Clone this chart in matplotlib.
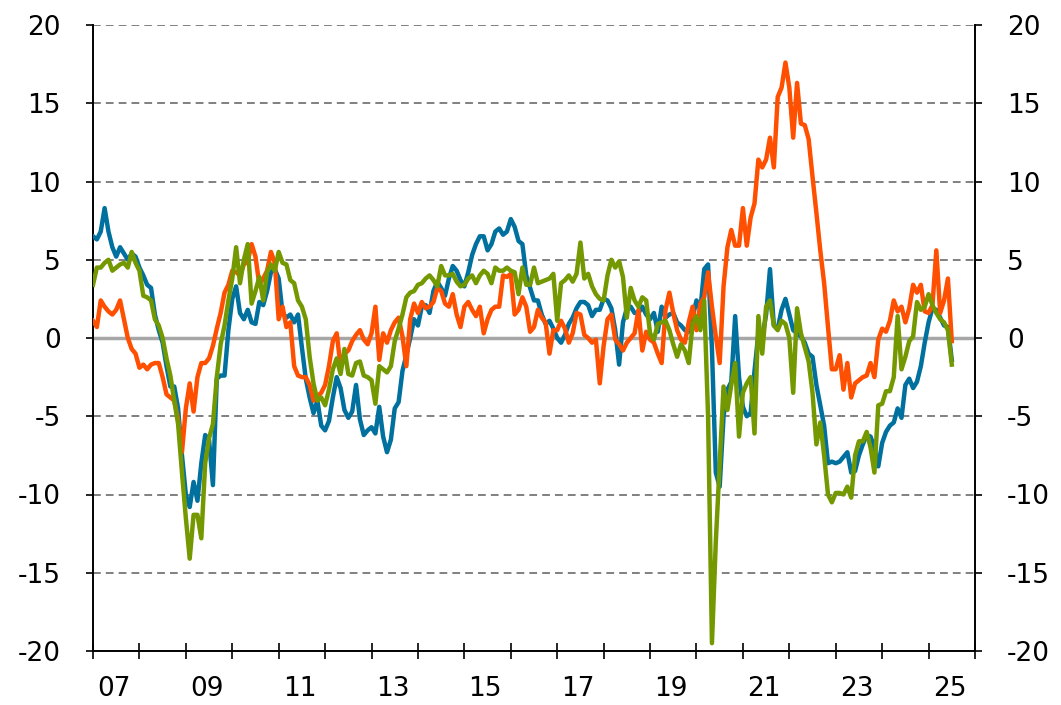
import numpy as np
import matplotlib
matplotlib.use("Agg")
import matplotlib.pyplot as plt
from matplotlib.ticker import FixedLocator, NullFormatter

# monthly series, Jan 2007 onwards
blue = [
    6.5, 6.3, 6.8, 8.3, 6.8, 5.8, 5.2, 5.8, 5.4, 5.0, 5.4, 5.2,
    4.5, 4.0, 3.4, 3.2, 1.5, 0.5, -0.3, -1.8, -3.1, -3.1, -4.5, -7.5,
    -10.0, -10.8, -9.2, -10.4, -8.0, -6.2, -6.5, -9.4, -2.6, -2.4, -2.4, 0.5,
    2.5, 3.3, 1.6, 1.2, 1.8, 1.0, 0.9, 2.3, 2.1, 3.0, 4.2, 4.4,
    3.8, 1.6, 1.3, 1.5, 1.0, 1.5, -0.6, -2.6, -3.8, -4.8, -4.0, -5.6,
    -5.9, -5.3, -3.8, -2.5, -3.2, -4.6, -5.1, -4.7, -3.0, -5.2, -6.2, -5.9,
    -5.7, -6.1, -4.4, -6.3, -7.3, -6.5, -4.5, -4.1, -2.1, -1.1, 0.0, 1.2,
    0.8, 2.0, 2.1, 1.6, 3.0, 3.6, 3.2, 2.7, 3.8, 4.6, 4.3, 3.7,
    3.3, 4.2, 5.3, 6.0, 6.5, 6.5, 5.6, 6.0, 6.8, 7.0, 6.6, 6.8,
    7.6, 7.1, 6.2, 6.0, 4.0, 3.2, 2.4, 2.4, 1.5, 0.9, 1.1, 0.6,
    0.0, -0.3, 0.2, 0.9, 1.3, 1.9, 2.3, 2.3, 2.1, 1.4, 1.8, 1.8,
    2.5, 2.4, 1.9, 0.5, -1.7, 1.0, 1.9, 2.0, 1.6, 1.6, 2.0, 1.5,
    1.2, 1.6, 0.4, 2.0, 1.3, 1.5, 1.6, 1.0, 0.8, 0.5, 0.4, 1.3,
    2.4, 1.8, 4.4, 4.7, -0.7, -8.6, -9.5, -5.0, -3.3, -2.8, 1.4, -2.5,
    -4.4, -5.0, -4.8, -2.1, 0.3, 0.0, 1.5, 4.4, 0.8, 0.6, 1.8, 2.5,
    1.5, 0.5, 0.3, 0.1, -0.3, -1.0, -1.2, -3.0, -4.3, -5.6, -8.0, -7.9,
    -8.0, -7.9, -7.6, -7.3, -8.6, -8.5, -7.5, -6.8, -6.2, -6.3, -7.0, -8.2,
    -6.7, -6.0, -5.6, -5.4, -4.5, -5.1, -3.0, -2.6, -3.2, -2.8, -1.8, -0.3,
    1.0, 1.9, 1.8, 1.3, 0.8, 0.7, -1.4,
]

orange = [
    1.1, 0.7, 2.4, 2.0, 1.7, 1.5, 1.8, 2.4, 1.2, 0.0, -0.7, -1.0,
    -1.9, -1.7, -2.0, -1.7, -1.6, -1.6, -2.5, -3.6, -3.8, -4.0, -5.2, -7.3,
    -4.5, -2.9, -4.7, -2.5, -1.6, -1.6, -1.3, -0.5, 0.6, 1.6, 2.9, 3.4,
    4.3, 4.2, 4.0, 4.7, 4.9, 6.0, 5.2, 3.4, 3.8, 4.3, 5.5, 4.8,
    1.2, 2.0, 0.7, 1.0, -1.8, -2.4, -2.5, -2.5, -3.0, -4.0, -3.7, -3.5,
    -3.0, -1.8, -0.2, 0.3, -1.8, -1.0, -0.8, -0.2, 0.2, 0.5, -0.1, -0.4,
    0.3, 2.0, -1.4, 0.3, -0.3, 0.5, 1.0, 1.3, 0.1, -1.8, 1.2, 2.2,
    1.6, 2.3, 1.9, 2.0, 2.3, 3.2, 3.0, 2.2, 2.0, 2.8, 1.5, 0.7,
    2.0, 2.3, 1.8, 1.4, 2.0, 0.3, 1.2, 1.8, 2.0, 2.0, 4.0, 3.9,
    4.1, 1.5, 1.8, 2.6, 2.0, 0.4, 0.7, 1.8, 1.3, 1.0, -1.0, 0.5,
    0.5, 1.1, 0.6, -0.3, 0.3, 1.6, 1.5, 0.2, 0.0, -0.3, -0.1, -2.9,
    -0.5, 1.2, 1.5, -0.1, -0.4, -0.8, -0.3, 0.0, 0.3, 1.8, -0.8, 0.4,
    -0.1, -0.3, -1.0, -1.6, 1.8, 2.9, 1.6, 0.5, -0.1, -0.3, 1.0, 2.0,
    0.5, 2.2, 2.6, 4.2, 2.0, 0.1, -1.6, 3.3, 5.8, 6.9, 5.9, 5.9,
    8.3, 5.9, 7.7, 8.6, 11.4, 10.9, 11.4, 12.8, 10.9, 15.4, 16.0, 17.6,
    16.0, 12.8, 16.3, 13.7, 13.6, 12.7, 10.3, 8.0, 5.6, 3.5, 0.7, -2.0,
    -2.0, -1.1, -3.3, -1.6, -3.8, -2.9, -2.7, -2.5, -2.4, -1.6, -2.5, -0.1,
    0.6, 0.4, 1.1, 2.4, 1.7, 2.0, 1.0, 1.9, 3.4, 2.9, 3.4, 1.7,
    1.6, 2.1, 5.6, 1.6, 2.4, 3.8, -0.2,
]

green = [
    3.4, 4.5, 4.5, 4.8, 5.0, 4.3, 4.5, 4.7, 4.8, 4.5, 5.5, 4.8,
    4.3, 2.7, 2.6, 2.4, 1.2, 0.8, 0.0, -1.3, -2.4, -4.0, -5.5, -8.6,
    -11.5, -14.1, -11.3, -11.3, -12.8, -8.0, -6.4, -5.5, -2.5, -0.4, 0.8, 2.4,
    3.8, 5.8, 3.5, 5.0, 6.0, 2.2, 3.0, 3.9, 2.4, 4.2, 4.7, 4.3,
    5.5, 4.8, 4.7, 3.7, 3.5, 2.4, 2.0, 1.2, -1.2, -2.9, -4.0, -3.8,
    -4.3, -3.3, -2.0, -1.3, -2.3, -0.7, -2.3, -2.4, -1.6, -1.5, -2.4, -2.5,
    -2.7, -4.2, -1.8, -2.0, -2.2, -1.8, -0.2, 0.6, 1.5, 2.6, 2.9, 3.0,
    3.4, 3.5, 3.8, 4.0, 3.7, 3.3, 4.6, 4.0, 4.0, 4.1, 3.6, 3.3,
    3.4, 3.8, 4.0, 3.5, 4.0, 4.3, 4.1, 3.5, 4.5, 4.3, 4.3, 4.5,
    4.3, 4.2, 2.8, 4.5, 3.4, 3.4, 4.5, 3.5, 3.6, 3.7, 3.8, 4.1,
    1.1, 3.5, 3.7, 4.0, 3.6, 4.1, 6.1, 3.8, 4.1, 3.3, 2.8, 2.5,
    2.4, 4.0, 5.0, 4.5, 4.9, 3.9, 1.3, 3.2, 2.4, 2.0, 2.6, 2.4,
    0.3, -0.1, 0.9, 1.0, 1.1, 0.5, -0.4, -1.2, -0.4, -0.8, -1.6, 0.9,
    1.4, 0.5, 2.4, -5.0, -19.5, -13.0, -8.0, -3.1, -4.6, -3.0, -1.6, -6.3,
    -3.5, -2.9, -2.5, -6.1, 1.4, -1.0, 2.0, 2.4, 0.8, 0.5, 1.1, 0.9,
    0.0, -3.5, 1.9, 0.3, -0.6, -1.5, -3.5, -6.8, -5.4, -7.5, -10.0, -10.5,
    -9.9, -9.9, -10.0, -9.5, -10.2, -7.5, -6.6, -6.6, -6.0, -7.0, -8.6, -4.3,
    -4.2, -3.4, -3.4, -2.5, 1.4, -2.0, -1.2, -0.2, 0.1, 2.3, 1.8, 2.0,
    2.8, 2.1, 1.6, 1.2, 1.0, 0.5, -1.7,
]

start_year = 2007
label_years = list(range(2007, 2026, 2))
tick_labels = [f"{y % 100:02d}" for y in label_years]

plt.rcParams["font.family"] = "DejaVu Sans"
plt.rcParams["axes.unicode_minus"] = False

fig = plt.figure(figsize=(10.61, 7.05), dpi=100)
ax = fig.add_axes([93 / 1061, 1 - 651 / 705, 882 / 1061, 626 / 705])

x = start_year + np.arange(len(blue)) / 12

ax.axhline(0, color="#A6A6A6", lw=2.5, zorder=1)
ax.plot(x, blue, color="#00709E", lw=3.2, solid_joinstyle="round", zorder=3)
ax.plot(x, orange, color="#FF4F00", lw=3.2, solid_joinstyle="round", zorder=3)
ax.plot(x, green, color="#749800", lw=3.2, solid_joinstyle="round", zorder=3)

ax.set_xlim(2007, 2026)
ax.set_ylim(-20, 20)
ax.set_yticks(range(-20, 21, 5))

for v in range(-15, 21, 5):
    if v != 0:
        ax.axhline(v, color="#808080", lw=1.4, ls=(0, (4, 2.6)), zorder=0)

ax.spines["top"].set_visible(False)
for s in ["left", "right", "bottom"]:
    ax.spines[s].set_linewidth(1.4)
    ax.spines[s].set_color("black")

# year ticks without labels, labels sit between them
ax.xaxis.set_major_locator(FixedLocator(range(2007, 2027)))
ax.xaxis.set_major_formatter(NullFormatter())
ax.xaxis.set_minor_locator(FixedLocator([y + 0.45 for y in label_years]))
ax.set_xticklabels(tick_labels, minor=True)
ax.tick_params(axis="x", which="major", direction="inout", length=12, width=1.2)
ax.tick_params(axis="x", which="minor", length=0, pad=18, labelsize=19)

ax.tick_params(axis="y", which="major", direction="out", length=5, width=1.2,
               left=True, right=True, labelleft=True, labelright=True,
               labelsize=19, pad=18)

fig.savefig("out.png", dpi=100)
